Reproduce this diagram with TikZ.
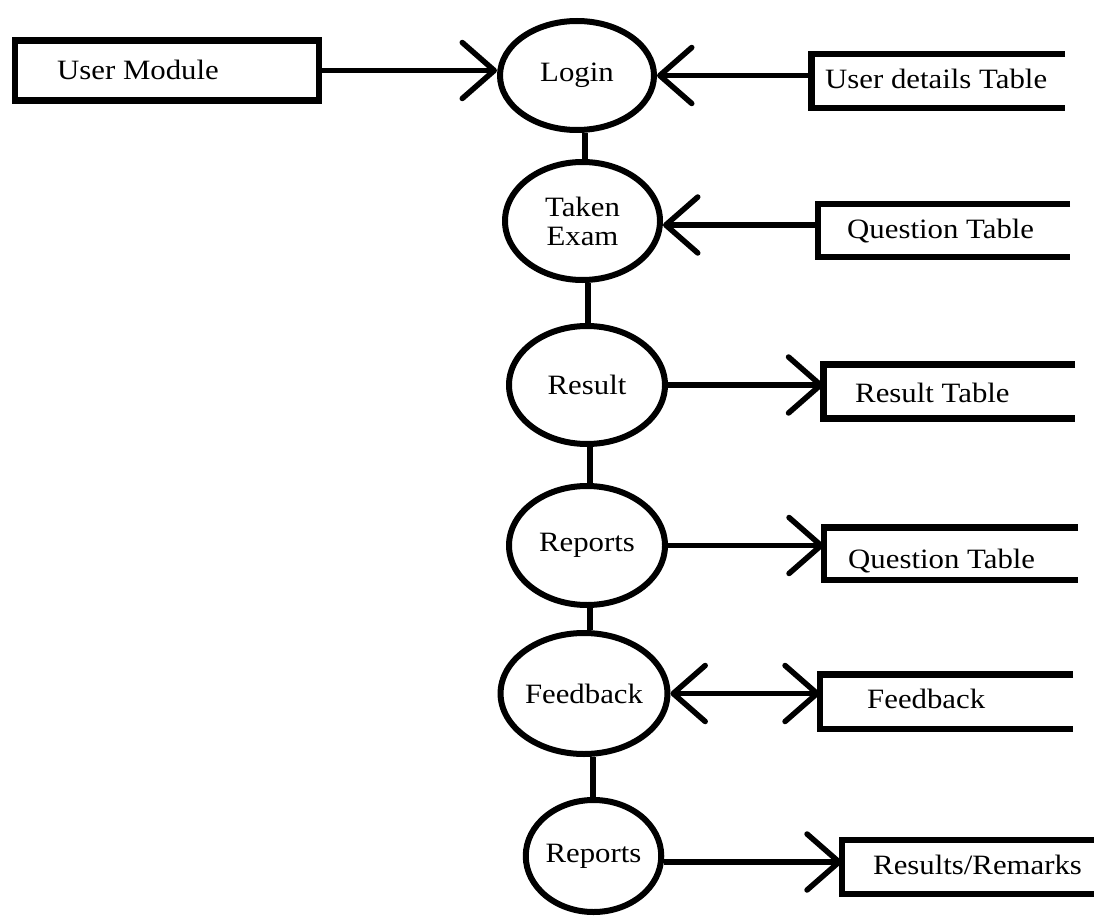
\documentclass[tikz,border=0pt]{standalone}
\usepackage{fontspec}
\setmainfont{Liberation Serif}[FakeStretch=1.1]
\usetikzlibrary{arrows.meta,shapes.geometric,calc}
\begin{document}
\begin{tikzpicture}[x=1pt,y=-1pt,
  proc/.style={ellipse, draw, line width=6pt, inner sep=0pt, font=\fontsize{28}{29}\selectfont, align=center},
  ext/.style={rectangle, draw, line width=6.5pt, inner sep=0pt},
  store/.style={rectangle, inner sep=0pt},
  side/.style={line width=6.5pt, line cap=butt},
  lbl/.style={anchor=west, inner sep=0pt, font=\fontsize{28}{29}\selectfont},
  tipb/.tip={Straight Barb[length=32pt,width=56pt,round]},
  flow/.style={line width=5.5pt, -tipb},
  bflow/.style={line width=5.5pt, tipb-tipb},
  link/.style={line width=6pt}
]
\useasboundingbox (0,0) rectangle (1094,917);

% external entity
\node[ext, minimum width=304pt, minimum height=60pt] (um) at (167,70.5) {};
\node[lbl] (umt) at (57,70) {User Module};

% processes
\node[proc, minimum width=154pt, minimum height=109pt] (login) at (577,75.5) {\raisebox{6pt}{Login}};
\node[proc, minimum width=155pt, minimum height=118pt] (taken) at (582.5,221) {Taken\\Exam};
\node[proc, minimum width=156pt, minimum height=118pt] (result) at (587,385) {Result};
\node[proc, minimum width=156pt, minimum height=119pt] (rep1) at (587,545.5) {Reports};
\node[proc, minimum width=156pt, minimum height=121pt] (fb) at (584,693.5) {Feedback};
\node[proc, minimum width=127pt, minimum height=112pt] (rep2) at (593.5,856) {Reports};

% data stores
\node[store, minimum width=253.5pt, minimum height=54pt] (s1) at (938.25,81) {};
\node[store, minimum width=252pt, minimum height=53pt] (s2) at (944,230.5) {};
\node[store, minimum width=251.5pt, minimum height=54pt] (s3) at (949.25,391.5) {};
\node[store, minimum width=254pt, minimum height=52.5pt] (s4) at (951,553.75) {};
\node[store, minimum width=253pt, minimum height=54.5pt] (s5) at (946.5,701.75) {};
\node[store, minimum width=252pt, minimum height=54pt] (s6) at (968,867) {};
\foreach \s in {s1,s2,s3,s4,s5,s6}
  \draw[side] (\s.north east) -- (\s.north west) -- (\s.south west) -- (\s.south east);

\node[lbl] (t1) at (825,79) {User details Table};
\node[lbl] (t2) at (847,231) {Question Table};
\node[lbl] (t3) at (855,393) {Result Table};
\node[lbl] (t4) at (848,561) {Question Table};
\node[lbl] (t5) at (867,699) {Feedback};
\node[lbl] (t6) at (873,865) {Results/Remarks};

% vertical links
\coordinate (x1) at (585,0);
\coordinate (x2) at (588,0);
\coordinate (x3) at (590,0);
\coordinate (x4) at (590,0);
\coordinate (x5) at (593,0);
\draw[link] (login.south -| x1) -- (taken.north -| x1);
\draw[link] (taken.south -| x2) -- (result.north -| x2);
\draw[link] (result.south -| x3) -- (rep1.north -| x3);
\draw[link] (rep1.south -| x4) -- (fb.north -| x4);
\draw[link] (fb.south -| x5) -- (rep2.north -| x5);

% flows
\coordinate (y2) at (0,225);
\coordinate (y6) at (0,862);
\draw[flow] (um.east) -- (um.east -| login.west);
\draw[flow] (s1.west |- login.east) -- (login.east);
\draw[flow] (s2.west |- y2) -- (taken.east |- y2);
\draw[flow] (result.east) -- (result.east -| s3.west);
\draw[flow] (rep1.east) -- (rep1.east -| s4.west);
\draw[bflow] (fb.east) -- (fb.east -| s5.west);
\draw[flow] (rep2.east |- y6) -- (s6.west |- y6);
\end{tikzpicture}
\end{document}
